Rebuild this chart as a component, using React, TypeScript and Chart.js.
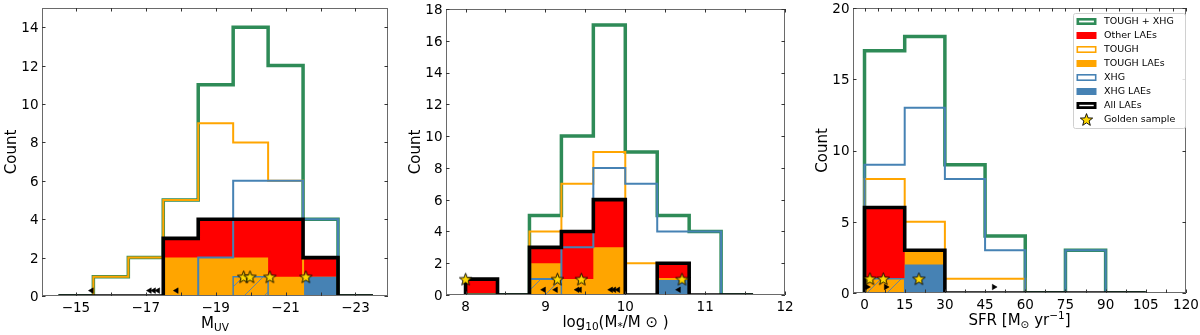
import React, { useEffect, useRef } from 'react';
import { Chart, registerables } from 'chart.js';
Chart.register(...registerables);

const FONT = '"DejaVu Sans", "Liberation Sans", sans-serif';
const GREEN = '#2e8b57';
const ORANGE = '#ffa500';
const BLUE = '#4682b4';
const RED = '#ff0000';
const GOLD = '#ffd700';

// ---------- Panel 1: M_UV ----------
const muvEdges = [-14.5, -15.5, -16.5, -17.5, -18.5, -19.5, -20.5, -21.5, -22.5, -23.5];
const muvToughXhg = [0, 1, 2, 5, 11, 14, 12, 4, 0];
const muvTough = [0, 1, 2, 5, 9, 8, 6, 0, 0];
const muvXhg = [0, 0, 0, 0, 2, 6, 6, 4, 0];
const muvAllLaes = [0, 0, 0, 3, 4, 4, 4, 2, 0];
const muvToughLaes = [0, 0, 0, 2, 2, 2, 1, 0, 0];
const muvXhgLaes = [0, 0, 0, 0, 0, 0, 0, 1, 0];
const muvHatched = [0, 0, 0, 0, 0, 1, 0, 0, 0];
const muvGolden = [-19.8, -19.98, -20.55, -21.58];
const muvLimits = [-15.45, -17.11, -17.23, -17.35, -17.88];
const muvTickLabels = [-15, -17, -19, -21, -23];
const muvTickMarks = [-15, -16, -17, -18, -19, -20, -21, -22, -23];
const muvCountTicks = [0, 2, 4, 6, 8, 10, 12, 14];

// ---------- Panel 2: stellar mass ----------
const massEdges = [8.0, 8.4, 8.8, 9.2, 9.6, 10.0, 10.4, 10.8, 11.2, 11.6];
const massToughXhg = [0, 0, 5, 10, 17, 9, 5, 4, 0];
const massTough = [0, 0, 4, 7, 9, 2, 1, 0, 0];
const massXhg = [0, 0, 1, 3, 8, 7, 4, 4, 0];
const massAllLaes = [1, 0, 3, 4, 6, 0, 2, 0, 0];
const massToughLaes = [0, 0, 2, 1, 3, 0, 0, 0, 0];
const massXhgLaes = [0, 0, 0, 0, 0, 0, 1, 0, 0];
const massHatched = [0, 0, 1, 0, 0, 0, 0, 0, 0];
const massGolden = [8.0, 9.15, 9.45, 10.71];
const massLimits = [8.98, 9.13, 9.4, 9.43, 9.82, 9.86, 9.91, 10.67];
const massTickLabels = [8, 9, 10, 11, 12];
const massTickMarks = [8, 8.5, 9, 9.5, 10, 10.5, 11, 11.5, 12];
const massCountTicks = [0, 2, 4, 6, 8, 10, 12, 14, 16, 18];

// ---------- Panel 3: SFR ----------
const sfrEdges = [0, 15, 30, 45, 60, 75, 90, 105];
const sfrToughXhg = [17, 18, 9, 4, 0, 3, 0];
const sfrTough = [8, 5, 1, 1, 0, 0, 0];
const sfrXhg = [9, 13, 8, 3, 0, 3, 0];
const sfrAllLaes = [6, 3, 0, 0, 0, 0, 0];
const sfrToughLaes = [1, 1, 0, 0, 0, 0, 0];
const sfrXhgLaes = [0, 2, 0, 0, 0, 0, 0];
const sfrHatched = [1, 0, 0, 0, 0, 0, 0];
const sfrGolden = [2.0, 7.0, 20.3];
const sfrLimits = [1.0, 8.0, 48.3];
const sfrTickLabels = [0, 15, 30, 45, 60, 75, 90, 105, 120];
const sfrBottomMarks = [0, 7.5, 15, 22.5, 30, 37.5, 45, 52.5, 60, 67.5, 75, 82.5, 90, 97.5, 105, 112.5, 120];
const sfrTopMarks = [0, 5, 10, 15, 20, 25, 30, 35, 40, 45, 50, 55, 60, 65, 70, 75, 80, 85, 90, 95, 100, 105, 110, 115, 120];
const sfrCountTicks = [0, 5, 10, 15, 20];

const legendLabels = ['TOUGH + XHG', 'Other LAEs', 'TOUGH', 'TOUGH LAEs', 'XHG', 'XHG LAEs', 'All LAEs', 'Golden sample'];

type Seg = { t: string; s?: 'sub' | 'sup' };

interface PanelSpec {
  left: number;
  pad: { left: number; right: number; top: number; bottom: number };
  xMin: number; xMax: number; reverse: boolean; yMax: number;
  edges: number[];
  toughXhg: number[]; tough: number[]; xhg: number[];
  allLaes: number[]; toughLaes: number[]; xhgLaes: number[]; hatched: number[];
  golden: number[]; limits: number[]; limitY: number; limitRot: number;
  xLabelTicks: number[]; xBottomMarks: number[]; xTopMarks: number[]; yTicks: number[];
  fmtX: (v: number) => string;
  xTitle: Seg[];
  legend: boolean;
}

const minus = (v: number) => (v < 0 ? '\u2212' + String(Math.abs(v)) : String(v));

const panels: PanelSpec[] = [
  {
    left: 0, pad: { left: 42, right: 12, top: 3, bottom: 39 },
    xMin: -23.93, xMax: -14.03, reverse: true, yMax: 15,
    edges: muvEdges, toughXhg: muvToughXhg, tough: muvTough, xhg: muvXhg,
    allLaes: muvAllLaes, toughLaes: muvToughLaes, xhgLaes: muvXhgLaes, hatched: muvHatched,
    golden: muvGolden, limits: muvLimits, limitY: 0.28, limitRot: -90,
    xLabelTicks: muvTickLabels, xBottomMarks: muvTickMarks, xTopMarks: muvTickMarks, yTicks: muvCountTicks,
    fmtX: minus,
    xTitle: [{ t: 'M' }, { t: 'UV', s: 'sub' }],
    legend: false,
  },
  {
    left: 400, pad: { left: 46, right: 15, top: 9, bottom: 40 },
    xMin: 7.755, xMax: 12, reverse: false, yMax: 18,
    edges: massEdges, toughXhg: massToughXhg, tough: massTough, xhg: massXhg,
    allLaes: massAllLaes, toughLaes: massToughLaes, xhgLaes: massXhgLaes, hatched: massHatched,
    golden: massGolden, limits: massLimits, limitY: 0.33, limitRot: -90,
    xLabelTicks: massTickLabels, xBottomMarks: massTickMarks, xTopMarks: massTickMarks, yTicks: massCountTicks,
    fmtX: (v) => String(v),
    xTitle: [{ t: 'log' }, { t: '10', s: 'sub' }, { t: '(M' }, { t: '*', s: 'sub' }, { t: '/M \u2299 )' }],
    legend: false,
  },
  {
    left: 800, pad: { left: 53, right: 14, top: 8, bottom: 42 },
    xMin: -4.3, xMax: 120, reverse: false, yMax: 20,
    edges: sfrEdges, toughXhg: sfrToughXhg, tough: sfrTough, xhg: sfrXhg,
    allLaes: sfrAllLaes, toughLaes: sfrToughLaes, xhgLaes: sfrXhgLaes, hatched: sfrHatched,
    golden: sfrGolden, limits: sfrLimits, limitY: 0.42, limitRot: 90,
    xLabelTicks: sfrTickLabels, xBottomMarks: sfrBottomMarks, xTopMarks: sfrTopMarks, yTicks: sfrCountTicks,
    fmtX: (v) => String(v),
    xTitle: [{ t: 'SFR [M' }, { t: '\u2299', s: 'sub' }, { t: ' yr' }, { t: '\u22121', s: 'sup' }, { t: ']' }],
    legend: true,
  },
];

function stepPoints(edges: number[], counts: number[]) {
  const pts: { x: number; y: number }[] = [{ x: edges[0], y: 0 }];
  counts.forEach((c, i) => {
    pts.push({ x: edges[i], y: c });
    pts.push({ x: edges[i + 1], y: c });
  });
  pts.push({ x: edges[edges.length - 1], y: 0 });
  return pts;
}

function makeStar(size: number): HTMLCanvasElement {
  const c = document.createElement('canvas');
  c.width = size; c.height = size;
  const g = c.getContext('2d')!;
  const cx = size / 2, cy = size / 2 + 0.6;
  const R = size / 2 - 1, r = R * 0.42;
  g.beginPath();
  for (let i = 0; i < 10; i++) {
    const a = -Math.PI / 2 + (i * Math.PI) / 5;
    const rad = i % 2 === 0 ? R : r;
    const px = cx + rad * Math.cos(a), py = cy + rad * Math.sin(a);
    if (i === 0) g.moveTo(px, py); else g.lineTo(px, py);
  }
  g.closePath();
  g.fillStyle = GOLD; g.fill();
  g.lineWidth = 0.9; g.strokeStyle = '#000'; g.stroke();
  return c;
}

function makeHatch(): CanvasPattern | string {
  const c = document.createElement('canvas');
  c.width = 20; c.height = 20;
  const g = c.getContext('2d')!;
  g.strokeStyle = 'rgba(90,130,170,0.9)';
  g.lineWidth = 1;
  g.beginPath();
  g.moveTo(0, 20); g.lineTo(20, 0);
  g.moveTo(-2, 2); g.lineTo(2, -2);
  g.moveTo(18, 22); g.lineTo(22, 18);
  g.stroke();
  return g.createPattern(c, 'repeat') || 'rgba(0,0,0,0)';
}

function richWidth(ctx: CanvasRenderingContext2D, segs: Seg[], size: number) {
  let w = 0;
  for (const s of segs) {
    ctx.font = `${s.s ? size * 0.7 : size}px ${FONT}`;
    w += ctx.measureText(s.t).width;
  }
  return w;
}

function drawRich(ctx: CanvasRenderingContext2D, segs: Seg[], cx: number, baseline: number, size: number, rotate = false) {
  ctx.save();
  ctx.translate(cx, baseline);
  if (rotate) ctx.rotate(-Math.PI / 2);
  const w = richWidth(ctx, segs, size);
  let x = -w / 2;
  ctx.textAlign = 'left';
  ctx.textBaseline = 'alphabetic';
  ctx.fillStyle = '#000';
  for (const s of segs) {
    const fs = s.s ? size * 0.7 : size;
    ctx.font = `${fs}px ${FONT}`;
    const dy = s.s === 'sub' ? size * 0.22 : s.s === 'sup' ? -size * 0.42 : 0;
    ctx.fillText(s.t, x, dy);
    x += ctx.measureText(s.t).width;
  }
  ctx.restore();
}

function makeDecor(spec: PanelSpec, star: HTMLCanvasElement) {
  return {
    id: 'decor',
    afterDatasetsDraw(chart: any) {
      const ctx: CanvasRenderingContext2D = chart.ctx;
      const a = chart.chartArea;
      const xs = chart.scales.x, ys = chart.scales.y;
      ctx.save();
      // frame
      ctx.strokeStyle = '#6a6a6a';
      ctx.lineWidth = 1;
      ctx.strokeRect(a.left + 0.5, a.top + 0.5, a.right - a.left - 1, a.bottom - a.top - 1);
      // ticks (inward)
      const TL = 3.5;
      ctx.strokeStyle = '#333';
      ctx.beginPath();
      for (const v of spec.xBottomMarks) {
        const px = Math.round(xs.getPixelForValue(v)) + 0.5;
        ctx.moveTo(px, a.bottom); ctx.lineTo(px, a.bottom - TL);
      }
      for (const v of spec.xTopMarks) {
        const px = Math.round(xs.getPixelForValue(v)) + 0.5;
        ctx.moveTo(px, a.top); ctx.lineTo(px, a.top + TL);
      }
      for (const v of spec.yTicks) {
        const py = Math.round(ys.getPixelForValue(v)) + 0.5;
        ctx.moveTo(a.left, py); ctx.lineTo(a.left + TL, py);
        ctx.moveTo(a.right, py); ctx.lineTo(a.right - TL, py);
      }
      ctx.stroke();
      // tick labels
      const TS = 13.5;
      ctx.fillStyle = '#000';
      ctx.font = `${TS}px ${FONT}`;
      ctx.textBaseline = 'alphabetic';
      ctx.textAlign = 'center';
      for (const v of spec.xLabelTicks) {
        ctx.fillText(spec.fmtX(v), xs.getPixelForValue(v), a.bottom + 15.5);
      }
      ctx.textAlign = 'right';
      for (const v of spec.yTicks) {
        ctx.fillText(String(v), a.left - 3.5, ys.getPixelForValue(v) + TS * 0.365);
      }
      // axis titles
      drawRich(ctx, spec.xTitle, (a.left + a.right) / 2, a.bottom + 32, 15);
      drawRich(ctx, [{ t: 'Count' }], a.left - 26.5, (a.top + a.bottom) / 2, 15, true);
      // legend
      if (spec.legend) {
        const bx = 273, by = 13, bw = 112, bh = 115;
        ctx.beginPath();
        if ((ctx as any).roundRect) (ctx as any).roundRect(bx + 0.5, by + 0.5, bw, bh, 2);
        else ctx.rect(bx + 0.5, by + 0.5, bw, bh);
        ctx.fillStyle = 'rgba(255,255,255,0.85)';
        ctx.fill();
        ctx.strokeStyle = '#d0d0d0';
        ctx.lineWidth = 1;
        ctx.stroke();
        const kinds: [string, string, number][] = [
          ['outline', GREEN, 2.6],
          ['fill', RED, 0],
          ['outline', ORANGE, 1.6],
          ['fill', ORANGE, 0],
          ['outline', BLUE, 1.6],
          ['fill', BLUE, 0],
          ['outline', '#000', 2.8],
          ['star', GOLD, 0],
        ];
        const hx = 276.5, hw = 20, hh = 7;
        legendLabels.forEach((lab, i) => {
          const cy = 21.5 + i * 14;
          const [k, col, lw] = kinds[i];
          if (k === 'fill') {
            ctx.fillStyle = col;
            ctx.fillRect(hx, cy - hh / 2, hw, hh);
          } else if (k === 'outline') {
            ctx.fillStyle = '#fff';
            ctx.fillRect(hx, cy - hh / 2, hw, hh);
            ctx.strokeStyle = col;
            ctx.lineWidth = lw;
            ctx.strokeRect(hx + lw / 2, cy - hh / 2 + lw / 2, hw - lw, hh - lw);
          } else {
            ctx.drawImage(star, hx + hw / 2 - star.width / 2, cy - star.height / 2);
          }
          ctx.fillStyle = '#000';
          ctx.font = `9.5px ${FONT}`;
          ctx.textAlign = 'left';
          ctx.textBaseline = 'middle';
          ctx.fillText(lab, 304, cy + 0.5);
        });
      }
      ctx.restore();
    },
  };
}

function buildChart(canvas: HTMLCanvasElement, spec: PanelSpec, star: HTMLCanvasElement, hatch: CanvasPattern | string) {
  const pts = (c: number[]) => stepPoints(spec.edges, c);
  const toughStack = spec.toughLaes.map((v, i) => v + spec.xhgLaes[i]);
  const base = { type: 'line', pointRadius: 0, tension: 0, borderJoinStyle: 'miter', clip: 0 };
  const none = 'rgba(0,0,0,0)';
  const ds: any[] = [
    { ...base, data: pts(spec.allLaes), fill: 'origin', backgroundColor: RED, borderColor: none, borderWidth: 0 },
    { ...base, data: pts(toughStack), fill: 'origin', backgroundColor: ORANGE, borderColor: none, borderWidth: 0 },
    { ...base, data: pts(spec.xhgLaes), fill: 'origin', backgroundColor: BLUE, borderColor: none, borderWidth: 0 },
    { ...base, data: pts(spec.toughXhg), fill: false, borderColor: GREEN, borderWidth: 3.5 },
    { ...base, data: pts(spec.tough), fill: false, borderColor: ORANGE, borderWidth: 2 },
    { ...base, data: pts(spec.xhg), fill: false, borderColor: BLUE, borderWidth: 2 },
    { ...base, data: pts(spec.hatched), fill: 'origin', backgroundColor: hatch, borderColor: BLUE, borderWidth: 1.5 },
    { ...base, data: pts(spec.allLaes), fill: false, borderColor: '#000', borderWidth: 3.6 },
    {
      type: 'scatter', data: spec.limits.map((x) => ({ x, y: spec.limitY })),
      pointStyle: 'triangle', rotation: spec.limitRot, pointRadius: 3.2,
      backgroundColor: '#000', borderColor: '#000', borderWidth: 0.5,
    },
    {
      type: 'scatter', data: spec.golden.map((x) => ({ x, y: 1 })),
      pointStyle: star, pointRadius: 7,
    },
  ];
  ds.forEach((d, i) => { d.order = ds.length - i; });
  return new Chart(canvas, {
    type: 'line',
    data: { datasets: ds },
    options: {
      animation: false,
      responsive: false,
      maintainAspectRatio: false,
      events: [],
      layout: { padding: spec.pad },
      plugins: { legend: { display: false }, tooltip: { enabled: false } },
      scales: {
        x: { type: 'linear', min: spec.xMin, max: spec.xMax, reverse: spec.reverse, display: false },
        y: { type: 'linear', min: 0, max: spec.yMax, display: false },
      },
    },
    plugins: [makeDecor(spec, star)],
  } as any);
}

export default function App() {
  const refs = [useRef<HTMLCanvasElement>(null), useRef<HTMLCanvasElement>(null), useRef<HTMLCanvasElement>(null)];
  useEffect(() => {
    const star = makeStar(15);
    const hatch = makeHatch();
    const charts = panels.map((p, i) => buildChart(refs[i].current!, p, star, hatch));
    return () => charts.forEach((c) => c.destroy());
  }, []);
  return (
    <div style={{ position: 'fixed', left: 0, top: 0, width: 1200, height: 335, background: '#fff', overflow: 'hidden' }}>
      {panels.map((p, i) => (
        <canvas
          key={i}
          ref={refs[i]}
          width={400}
          height={335}
          style={{ position: 'absolute', left: p.left, top: 0, width: 400, height: 335 }}
        />
      ))}
    </div>
  );
}
